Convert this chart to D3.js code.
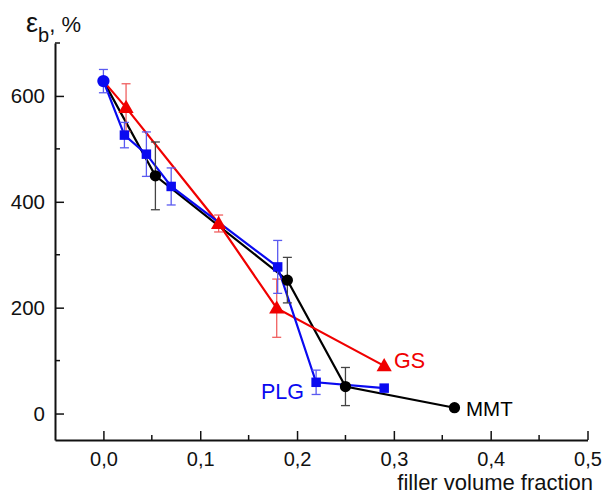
<!DOCTYPE html>
<html><head><meta charset="utf-8">
<script src="https://cdn.jsdelivr.net/npm/d3@7"></script>
<style>body{margin:0;background:#fff}svg text{font-family:Arial,"Liberation Sans",sans-serif}</style>
</head><body><svg id="c" width="605" height="494"></svg>
<script>
// Data
const mmtX = [0, 0.0537, 0.190, 0.250, 0.3626];
const mmtY = [628, 449, 252, 51, 11];
const mmtErr = [0, 64, 43, 36, 0];

const gsX = [0, 0.0234, 0.119, 0.179, 0.290];
const gsY = [628, 578, 359, 199, 90];
const gsErr = [0, 45, 16, 55, 0];

const plgX = [0, 0.0217, 0.0444, 0.070, 0.180, 0.2197, 0.290];
const plgY = [628, 526, 490, 429, 277, 59, 48];
const plgErr = [22, 24, 42, 35, 50, 23, 0];

const xTicks = [0.0, 0.1, 0.2, 0.3, 0.4, 0.5];
const xTickLabels = ["0,0", "0,1", "0,2", "0,3", "0,4", "0,5"];
const xMinor = [0.05, 0.15, 0.25, 0.35, 0.45];
const yTicks = [0, 200, 400, 600];
const yMinor = [100, 300, 500, 700];

const svg = d3.select("#c");
const x = d3.scaleLinear().domain([-0.05, 0.5]).range([55, 587.5]);
const y = d3.scaleLinear().domain([-50, 700]).range([440, 43]);

function series(xs, ys, es) { return xs.map((v, i) => ({x: v, y: ys[i], e: es[i]})); }
const S = [
  {name: "MMT", data: series(mmtX, mmtY, mmtErr), color: "#000", err: "#444", shape: "circle"},
  {name: "GS", data: series(gsX, gsY, gsErr), color: "#f00000", err: "#f06060", shape: "triangle"},
  {name: "PLG", data: series(plgX, plgY, plgErr), color: "#0a0af0", err: "#5a5af0", shape: "square"}
];

// axes
const xAxis = d3.axisBottom(x).tickValues(xTicks).tickFormat((d, i) => xTickLabels[i]).tickSizeInner(-8).tickSizeOuter(0).tickPadding(12);
const gx = svg.append("g").attr("transform", "translate(0,440)").call(xAxis);
const yAxis = d3.axisLeft(y).tickValues(yTicks).tickSizeInner(-8).tickSizeOuter(0).tickPadding(10);
const gy = svg.append("g").attr("transform", "translate(55,0)").call(yAxis);
[gx, gy].forEach(g => {
  g.select(".domain").attr("stroke", "#111").attr("stroke-width", 2);
  g.selectAll(".tick line").attr("stroke", "#111").attr("stroke-width", 1.5);
  g.selectAll("text").attr("font-size", 20.5).attr("fill", "#111").attr("font-family", "Arial, 'Liberation Sans', sans-serif");
});
gx.selectAll("text").attr("font-size", 20);
gx.selectAll(".tick line").attr("y2", -9);
gy.selectAll(".tick line").attr("x2", 9);
svg.append("g").selectAll("line").data(xMinor).join("line")
  .attr("x1", d => x(d)).attr("x2", d => x(d)).attr("y1", 440).attr("y2", 435)
  .attr("stroke", "#111").attr("stroke-width", 1.5);
svg.append("g").selectAll("line").data(yMinor).join("line")
  .attr("y1", d => y(d)).attr("y2", d => y(d)).attr("x1", 55).attr("x2", 60)
  .attr("stroke", "#111").attr("stroke-width", 1.5);

// lines
const line = d3.line().x(d => x(d.x)).y(d => y(d.y));
S.forEach(s => {
  svg.append("path").datum(s.data).attr("d", line).attr("fill", "none")
    .attr("stroke", s.color).attr("stroke-width", 2.2);
});
// error bars
S.forEach(s => {
  const g = svg.append("g").attr("stroke", s.err).attr("stroke-width", 1.3).attr("fill", "none");
  s.data.filter(d => d.e > 0).forEach(d => {
    const cx = x(d.x), t = y(d.y + d.e), b = y(d.y - d.e);
    g.append("line").attr("x1", cx).attr("x2", cx).attr("y1", t).attr("y2", b);
    g.append("line").attr("x1", cx - 4.5).attr("x2", cx + 4.5).attr("y1", t).attr("y2", t);
    g.append("line").attr("x1", cx - 4.5).attr("x2", cx + 4.5).attr("y1", b).attr("y2", b);
  });
});
// markers
const sym = {circle: d3.symbolCircle, triangle: d3.symbolTriangle, square: d3.symbolSquare};
const size = {circle: 100, triangle: 100, square: 90};
S.forEach(s => {
  svg.append("g").selectAll("path").data(s.data.filter(d => !(d.x === 0 && s.name !== "PLG"))).join("path")
    .attr("transform", d => `translate(${x(d.x)},${y(d.y) + (s.shape === "triangle" ? 1 : 0)})`)
    .attr("d", d => d3.symbol().type(d.x === 0 ? d3.symbolCircle : sym[s.shape]).size(d.x === 0 ? 120 : size[s.shape])())
    .attr("fill", s.color);
});

// labels
svg.append("text").attr("x", 394).attr("y", 368).attr("font-size", 21.5).attr("fill", "#f00000").text("GS");
svg.append("text").attr("x", 261).attr("y", 399).attr("font-size", 21.5).attr("fill", "#0a0af0").text("PLG");
svg.append("text").attr("x", 466).attr("y", 416).attr("font-size", 20.5).attr("fill", "#000").text("MMT");
svg.append("text").attr("x", 593).attr("y", 490).attr("text-anchor", "end").attr("font-size", 22).attr("fill", "#111").text("filler volume fraction");
const yl = svg.append("text").attr("x", 26).attr("y", 32).attr("fill", "#111");
yl.append("tspan").attr("font-size", 27).text("ε");
yl.append("tspan").attr("font-size", 20).attr("dy", 10).text("b");
yl.append("tspan").attr("font-size", 22).attr("dy", -10).text(", %");
</script></body></html>
